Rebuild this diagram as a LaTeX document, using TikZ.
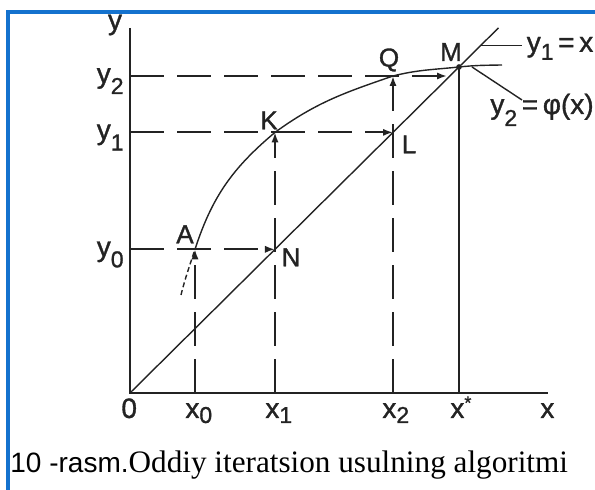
\documentclass[tikz,border=0pt]{standalone}
\usepackage{fontspec}
\setmainfont{Liberation Serif}
\setsansfont{Liberation Sans}
\newfontfamily\lblfont{Liberation Sans}[FakeBold=1.2]
\usetikzlibrary{arrows.meta, calc}

\definecolor{frameblue}{RGB}{20,114,206}
\definecolor{ink}{RGB}{35,35,35}

% lowered index digit, as in the scanned figure
\newcommand{\idx}[2][2.5pt]{\raisebox{-#1}{\fontsize{11.5}{11.5}\selectfont #2}}

\begin{document}
\begin{tikzpicture}[
    x=0.5pt, y=0.5pt,
    axis/.style={line width=1.25pt, draw=ink},
    curve/.style={line width=0.7pt, draw=ink},
    guide/.style={line width=0.95pt, draw=ink, dash pattern=on 17pt off 6.5pt},
    arr/.style={guide, -{Latex[length=5pt, width=3.6pt]}},
    lbl/.style={font=\lblfont\fontsize{14}{14}\selectfont, text=ink, inner sep=0pt},
    pnt/.style={font=\lblfont\fontsize{13}{13}\selectfont, text=ink, inner sep=0pt},
  ]
  \useasboundingbox (0,0) rectangle (595,490);

  %% ── Frame ─────────────────────────────────────────────────────────────
  \draw[line width=1.6pt, frameblue] (8,0) -- (8,478) -- (595,478);

  %% ── Axes and ticks ────────────────────────────────────────────────────
  \coordinate (O)    at (130,97);
  \coordinate (ytop) at (130,462);
  \coordinate (xend) at (548,97);
  \coordinate (x0)   at (195,97);
  \coordinate (x1)   at (275,97);
  \coordinate (x2)   at (393,97);
  \coordinate (xs)   at (459,97);

  %% ── Points of the iteration ───────────────────────────────────────────
  \coordinate (M)  at (459,423);
  \coordinate (D)  at ($(O)!1.12!(M)$);
  \coordinate (N)  at ($(O)!0.4407!(M)$);
  \coordinate (L)  at ($(O)!0.7994!(M)$);
  \coordinate (A)  at (x0 |- N);
  \coordinate (K)  at (x1 |- L);
  \coordinate (Q)  at (393,414);
  \coordinate (qm) at (447,414);
  \coordinate (y0) at (O |- N);
  \coordinate (y1) at (O |- L);
  \coordinate (y2) at (O |- Q);
  \coordinate (C0) at (181,195);
  \coordinate (C1) at (502,425);

  \draw[axis] (ytop) -- (O) -- (xend);
  \draw[axis] (xs) -- (M);

  %% ── y = x and y = phi(x) ──────────────────────────────────────────────
  \draw[curve] (O) -- (D);
  \draw[curve, dash pattern=on 2.5pt off 1.5pt] (C0) to[out=76, in=252] (A);
  \draw[curve] (A) to[out=72, in=220] (K) to[out=36, in=199] (Q)
      to[out=14, in=186] (M) to[out=6, in=181] (C1);
  \fill[ink] (M) circle[radius=1.4pt];

  %% ── Dashed steps ──────────────────────────────────────────────────────
  \draw[arr] (x0) -- (A);
  \draw[arr] (y0) -- (N);
  \draw[arr] (x1) -- (K);
  \draw[arr] (y1) -- (L);
  \draw[arr] (x2) -- (Q);
  \draw[arr] (y2) -- (qm);

  %% ── Leaders to the curve names ────────────────────────────────────────
  \coordinate (d1) at ($(O)!1.065!(M)$);
  \coordinate (e1) at ($(d1)+(42,0)$);
  \coordinate (c2) at (472,423);
  \coordinate (e2) at (522,390);
  \draw[curve] (d1) -- (e1);
  \draw[curve] (c2) -- (e2);
  \node[lbl, anchor=base west] (ty1) at ($(e1)+(4,-6)$) {y\idx[4pt]{1}\,=\,x};
  \node[lbl, anchor=base west] (ty2) at (490,376) {y\idx[6pt]{2}\,=\,φ(x)};

  %% ── Axis labels ───────────────────────────────────────────────────────
  \node[lbl] (ly) at (115,465) {y};
  \node[lbl, anchor=base east] (ly2) at ($(y2)+(-6,-7)$) {y\idx[5.5pt]{2}};
  \node[lbl, anchor=base east] (ly1) at ($(y1)+(-6,-7)$) {y\idx[5.5pt]{1}};
  \node[lbl, anchor=base east] (ly0) at ($(y0)+(-6,-7)$) {y\idx[5.5pt]{0}};
  \node[lbl, anchor=base west] (lo)  at ($(O)+(-9,-25)$)    {0};
  \node[lbl, anchor=base west] (lx0) at ($(x0)+(-10,-25)$)  {x\idx{0}};
  \node[lbl, anchor=base west] (lx1) at ($(x1)+(-10,-25)$)  {x\idx{1}};
  \node[lbl, anchor=base west] (lx2) at ($(x2)+(-11,-25)$)  {x\idx{2}};
  \node[lbl, anchor=base west] (lxs) at ($(xs)+(-9,-25)$)   {x\raisebox{4.5pt}{\fontsize{9}{9}\selectfont *}};
  \node[lbl, anchor=base west] (lx)  at ($(xend)+(-8,-25)$) {x};

  %% ── Point names ───────────────────────────────────────────────────────
  \node[pnt] (nA) at ($(A)+(-10,15)$)  {A};
  \node[pnt] (nK) at ($(K)+(-6,12)$)   {K};
  \node[pnt] (nQ) at ($(Q)+(-4,16)$)   {Q};
  \node[pnt] (nM) at ($(M)+(-8,15)$)   {M};
  \node[pnt] (nN) at ($(N)+(16,-8)$)   {N};
  \node[pnt] (nL) at ($(L)+(16,-12)$)  {L};

  %% ── Caption ───────────────────────────────────────────────────────────
  \node[anchor=base west, inner sep=0pt] (cap) at (10,17)
      {{\sffamily\fontsize{14}{14}\selectfont 10 -rasm.}{\fontsize{15.6}{15}\selectfont Oddiy iteratsion usulning algoritmi}};

\end{tikzpicture}
\end{document}
